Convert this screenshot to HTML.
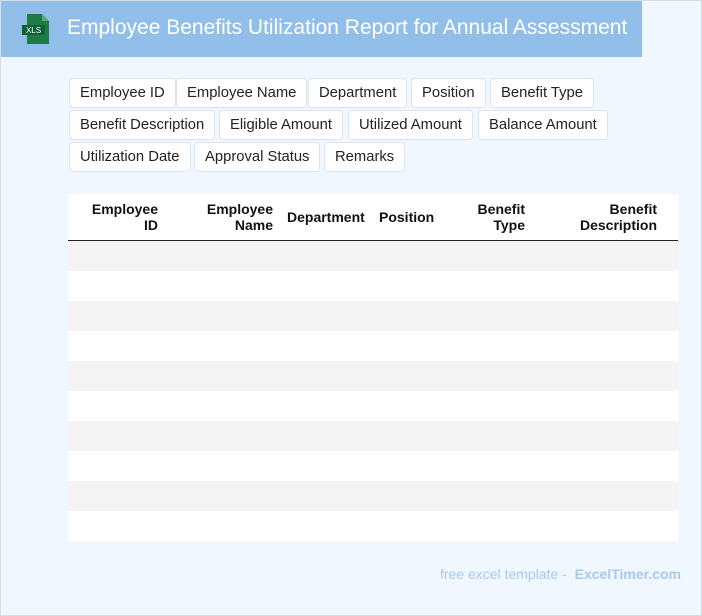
<!DOCTYPE html>
<html><head><style>
*{margin:0;padding:0;box-sizing:border-box}
body{width:702px;height:616px;background:#f0f7ff;position:relative;overflow:hidden;font-family:"Liberation Sans",Arial,sans-serif}
.frame{position:absolute;left:0;top:0;width:702px;height:616px;border:1px solid #d8dde3;pointer-events:none}
.hdr{position:absolute;left:0;top:0;width:642px;height:57px;background:#91bfea}
.title{position:absolute;left:67px;top:16px;color:#fff;font-size:21px;white-space:nowrap}
.icon{position:absolute;left:22px;top:14px;width:28px;height:30px}
.tag{position:absolute;height:30px;border:1px solid #dde3ea;border-radius:4px;background:#fff;font-size:14.8px;line-height:29px;padding:0 10px;color:#222;white-space:nowrap}
.tbl{position:absolute;left:68px;top:194px;width:610px;height:347px;background:#fff}
.th{position:absolute;font-size:14px;font-weight:bold;color:#111;line-height:16px;white-space:nowrap}
.line{position:absolute;left:0;top:46px;width:610px;height:1px;background:#222}
.row{position:absolute;left:0;width:610px;height:30px;background:#f4f4f4}
.foot{position:absolute;right:21px;top:566px;font-size:14px;color:#a9c8ee}
</style></head><body>
<div class="hdr"></div>
<svg class="icon" viewBox="0 0 28 30"><path d="M5 0h15l7 7v23H5z" fill="#1e7b45"/><path d="M20 0v7h7z" fill="#4fae74"/><rect x="0" y="11" width="23" height="10" fill="#10603a"/><text x="11.5" y="19" font-size="8" fill="#fff" text-anchor="middle" font-family="Liberation Sans">XLS</text></svg>
<div class="title">Employee Benefits Utilization Report for Annual Assessment</div>

<div class="tag" style="left:69px;top:78px">Employee ID</div>
<div class="tag" style="left:176px;top:78px">Employee Name</div>
<div class="tag" style="left:308px;top:78px">Department</div>
<div class="tag" style="left:411px;top:78px">Position</div>
<div class="tag" style="left:490px;top:78px">Benefit Type</div>
<div class="tag" style="left:69px;top:110px">Benefit Description</div>
<div class="tag" style="left:219px;top:110px">Eligible Amount</div>
<div class="tag" style="left:348px;top:110px">Utilized Amount</div>
<div class="tag" style="left:478px;top:110px">Balance Amount</div>
<div class="tag" style="left:69px;top:142px">Utilization Date</div>
<div class="tag" style="left:194px;top:142px">Approval Status</div>
<div class="tag" style="left:324px;top:142px">Remarks</div>

<div class="tbl">
<div class="th" style="right:520px;top:7px;text-align:right">Employee<br>ID</div>
<div class="th" style="right:405px;top:7px;text-align:right">Employee<br>Name</div>
<div class="th" style="left:219px;top:15px">Department</div>
<div class="th" style="left:311px;top:15px">Position</div>
<div class="th" style="right:153px;top:7px;text-align:right">Benefit<br>Type</div>
<div class="th" style="right:21px;top:7px;text-align:right">Benefit<br>Description</div>
<div class="line"></div>
<div class="row" style="top:47px"></div>
<div class="row" style="top:107px"></div>
<div class="row" style="top:167px"></div>
<div class="row" style="top:227px"></div>
<div class="row" style="top:287px"></div>
</div>
<div class="foot">free excel template - &nbsp;<b>ExcelTimer.com</b></div>
<div class="frame"></div>
</body></html>
